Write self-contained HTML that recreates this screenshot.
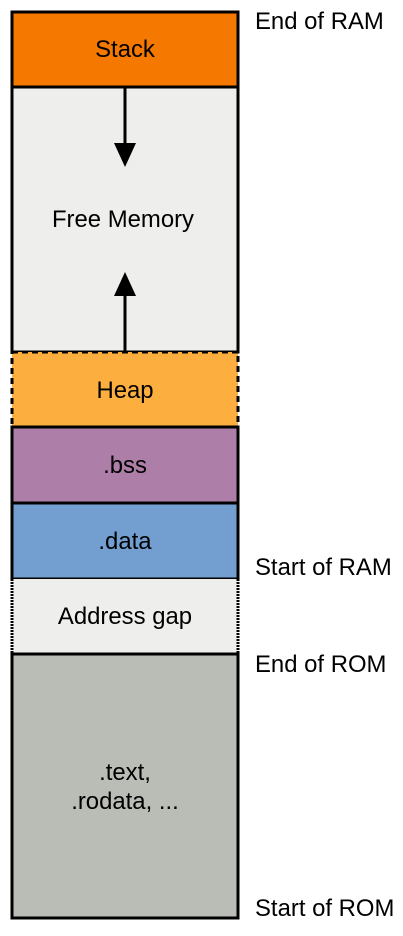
<!DOCTYPE html>
<html><head><style>body{margin:0;background:#fff}</style></head><body>
<svg width="403" height="931" xmlns="http://www.w3.org/2000/svg" font-family="Liberation Sans, sans-serif" font-size="23.9">
<rect x="12" y="12" width="226" height="75" fill="#f57900" stroke="#000" stroke-width="3"/>
<rect x="12" y="87" width="226" height="265" fill="#eeeeec" stroke="#000" stroke-width="3"/>
<rect x="12" y="352" width="226" height="75" fill="#fcaf3e" stroke="#000" stroke-width="3" stroke-dasharray="6,4"/>
<rect x="12" y="427" width="226" height="76" fill="#ad7fa8" stroke="#000" stroke-width="3"/>
<rect x="12" y="503" width="226" height="76" fill="#729fcf" stroke="#000" stroke-width="3"/>
<rect x="12" y="579" width="226" height="75" fill="#eeeeec"/>
<line x1="12" y1="579" x2="12" y2="654" stroke="#000" stroke-width="3" stroke-dasharray="2,1"/>
<line x1="238" y1="579" x2="238" y2="654" stroke="#000" stroke-width="3" stroke-dasharray="2,1"/>
<rect x="12" y="654" width="226" height="264" fill="#babdb6" stroke="#000" stroke-width="3"/>
<line x1="125" y1="87" x2="125" y2="145" stroke="#000" stroke-width="3"/>
<polygon points="114,143 136,143 125,167" fill="#000"/>
<line x1="125" y1="352" x2="125" y2="294" stroke="#000" stroke-width="3"/>
<polygon points="114,296 136,296 125,272" fill="#000"/>
<g text-anchor="middle">
<text x="125" y="57">Stack</text>
<text x="123" y="227">Free Memory</text>
<text x="125" y="398">Heap</text>
<text x="125" y="473">.bss</text>
<text x="125" y="549">.data</text>
<text x="125" y="624">Address gap</text>
<text x="125" y="780">.text,</text>
<text x="125" y="809">.rodata, ...</text>
</g>
<text x="255" y="29">End of RAM</text>
<text x="255" y="575">Start of RAM</text>
<text x="255" y="672">End of ROM</text>
<text x="255" y="916">Start of ROM</text>
</svg>
</body></html>
